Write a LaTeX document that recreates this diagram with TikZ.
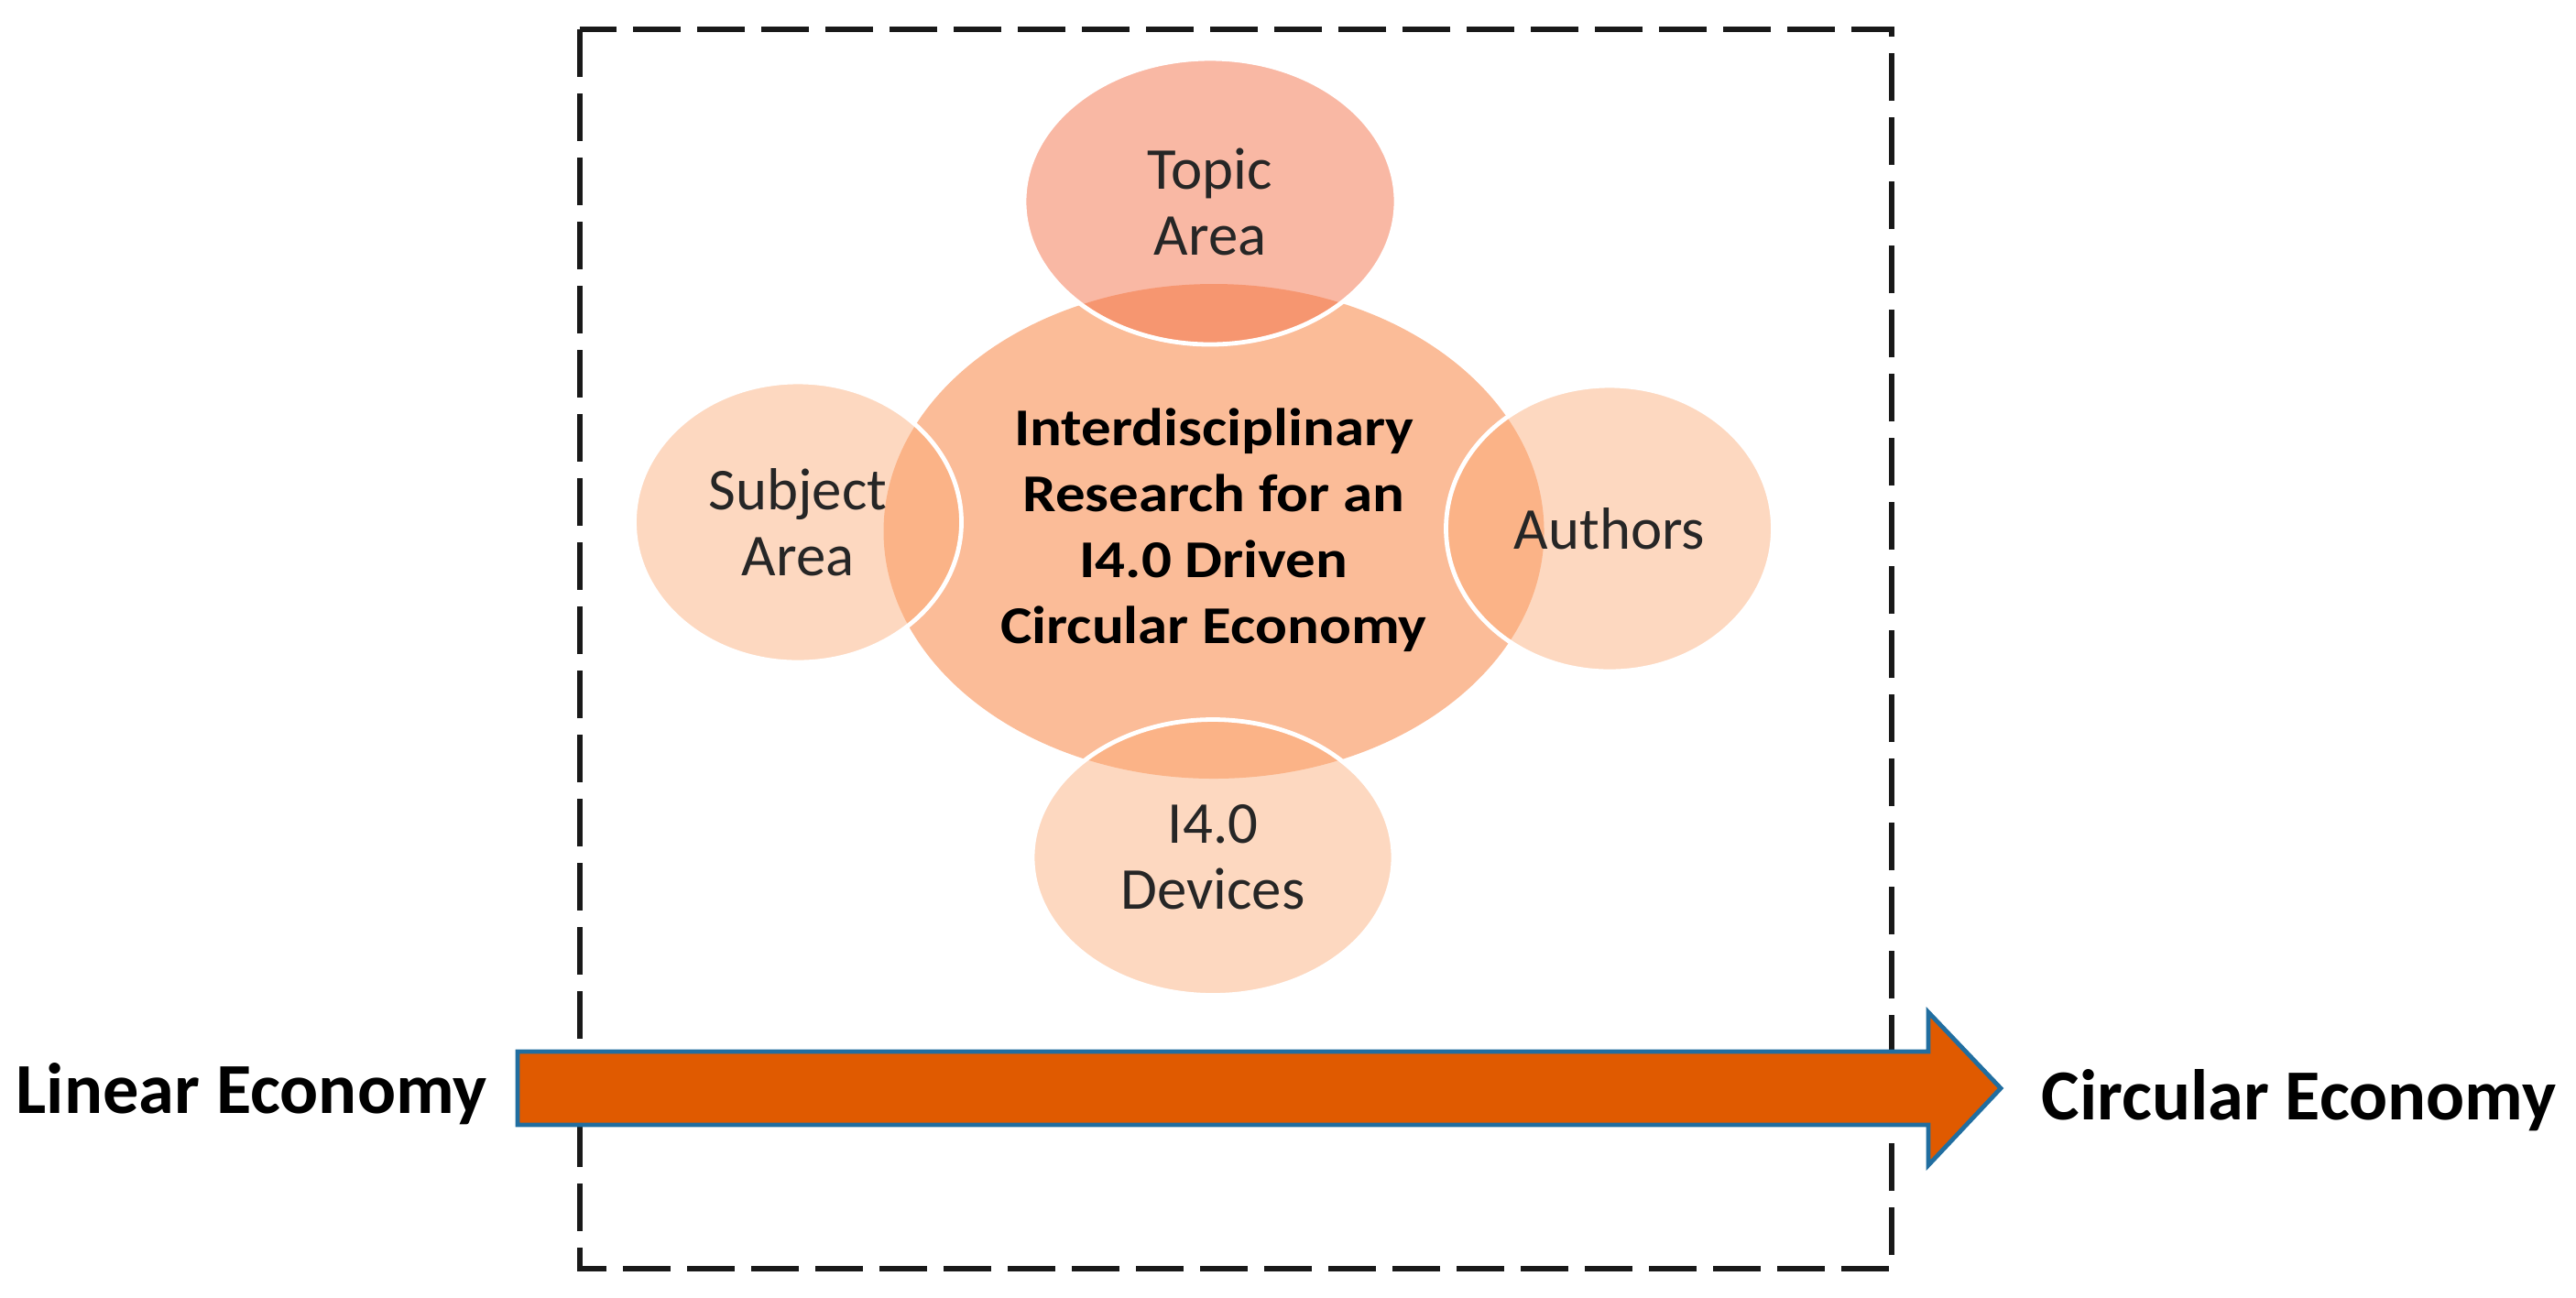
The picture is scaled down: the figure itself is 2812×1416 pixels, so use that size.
\documentclass[tikz,border=0pt]{standalone}
\usepackage{fontspec}
\setmainfont{Carlito}
\usepackage{graphicx}
\usetikzlibrary{shapes.geometric}
\definecolor{centerfill}{RGB}{251,188,152}
\definecolor{topicC}{RGB}{243,113,73}
\definecolor{outerC}{RGB}{251,169,116}
\definecolor{arrowfill}{RGB}{224,90,0}
\definecolor{arrowline}{RGB}{33,110,160}
\definecolor{labeltext}{RGB}{38,38,38}
\tikzset{
  bubble/.style={ellipse, inner sep=0pt, draw=white, line width=1.2pt,
    fill=outerC, fill opacity=0.45, text opacity=1, draw opacity=1,
    align=center, text=labeltext, font=\fontsize{16.2pt}{18pt}\selectfont},
  topicbubble/.style={bubble, fill=topicC, fill opacity=0.5},
  corebubble/.style={ellipse, inner sep=0pt, fill=centerfill, text=black,
    font=\bfseries\fontsize{14.5pt}{18pt}\selectfont},
  sidelabel/.style={inner sep=0pt, text=black, font=\bfseries\fontsize{19.6pt}{23pt}\selectfont},
  frame/.style={draw=black!90, line width=1.5pt, dash pattern=on 13pt off 4.5pt},
  bigarrow/.style={fill=arrowfill, draw=arrowline, line width=1.2pt, line join=miter}
}
\begin{document}
\begin{tikzpicture}[x=0.25pt, y=-0.25pt]
\useasboundingbox (0,0) rectangle (2812,1416);
% dashed frame
\draw[frame] (633,32) rectangle (2065,1385);
% central bubble
\node[corebubble, minimum width=180.25pt, minimum height=135pt] (core) at (1325,580)
  {\scalebox{1.12}[1]{\begin{tabular}{@{}c@{}}Interdisciplinary\\Research for an\\I4.0 Driven\\Circular Economy\end{tabular}}};
% outer bubbles
\node[topicbubble, minimum width=101.5pt, minimum height=78pt] (topic) at (1321,220) {Topic\\Area};
\node[bubble, minimum width=89.25pt, minimum height=76.5pt] (subject) at (871,570) {Subject\\Area};
\node[bubble, minimum width=89.25pt, minimum height=78pt] (authors) at (1757,577) {Authors};
\node[bubble, minimum width=98.5pt, minimum height=75.25pt] (devices) at (1324,936) {I4.0\\Devices};
% side labels
\node[sidelabel, anchor=base west] (linear) at (17,1215) {Linear Economy};
\node[sidelabel, anchor=base west] (circular) at (2228,1222) {Circular Economy};
% block arrow
\draw[bigarrow] (565,1148) -- (2105,1148) -- (2105,1105) -- (2184,1188)
  -- (2105,1272) -- (2105,1228) -- (565,1228) -- cycle;
\end{tikzpicture}
\end{document}
